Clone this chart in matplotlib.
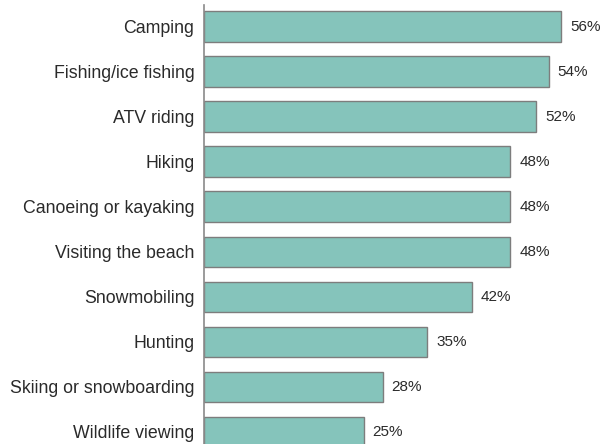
import matplotlib.pyplot as plt

activities = ['Camping', 'Fishing/ice fishing', 'ATV riding', 'Hiking',
              'Canoeing or kayaking', 'Visiting the beach', 'Snowmobiling',
              'Hunting', 'Skiing or snowboarding', 'Wildlife viewing']
shares = [56, 54, 52, 48, 48, 48, 42, 35, 28, 25]

plt.rcParams['font.family'] = ['Liberation Sans', 'DejaVu Sans']

fig = plt.figure(figsize=(6.04, 4.44), dpi=100)
# axes runs past the bottom edge so the last bar is cut off like the original
ax = fig.add_axes([204 / 604, -10.5 / 444, 383 / 604, 449 / 444])

y = list(range(len(activities)))
ax.barh(y, shares, height=0.68, color='#85c4bb', edgecolor='#7d7d7d',
        linewidth=1.0, zorder=2)

for yi, v in zip(y, shares):
    ax.text(v + 1.4, yi, f'{v}%', va='center', ha='left',
            fontsize=11, color='#2a2a2a')

ax.set_xlim(0, 60)
ax.set_ylim(9.5, -0.47)
ax.set_yticks(y)
ax.set_yticklabels(activities, fontsize=12.8, color='#2a2a2a')
ax.tick_params(axis='y', length=0, pad=7)
ax.set_xticks([])

for side in ['top', 'right', 'bottom']:
    ax.spines[side].set_visible(False)
ax.spines['left'].set_color('#8a8a8a')
ax.spines['left'].set_linewidth(1.2)

fig.savefig('out.png', dpi=100)
